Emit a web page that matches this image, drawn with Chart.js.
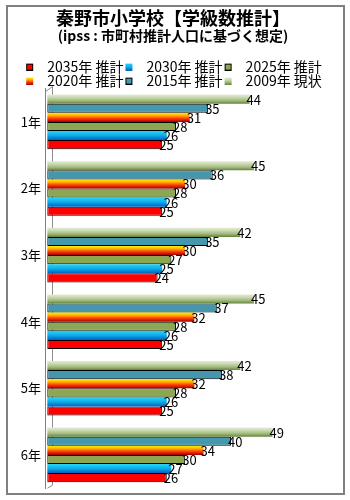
<!DOCTYPE html>
<html lang="ja">
<head>
<meta charset="utf-8">
<script src="https://cdn.jsdelivr.net/npm/chart.js@4/dist/chart.umd.min.js"></script>
<style>
  html, body { margin: 0; padding: 0; background: #fff; }
  #wrap { width: 350px; height: 500px; }
</style>
</head>
<body>
<div id="wrap"><canvas id="chart" width="350" height="500"></canvas></div>
<script>
// Grades (categories) and class-count series
const grades = ['1年', '2年', '3年', '4年', '5年', '6年'];
const seriesNames = ['2009年 現状', '2015年 推計', '2020年 推計', '2025年 推計', '2030年 推計', '2035年 推計'];
const classes2009 = [44, 45, 42, 45, 42, 49];
const classes2015 = [35, 36, 35, 37, 38, 40];
const classes2020 = [31, 30, 30, 32, 32, 34];
const classes2025 = [28, 28, 27, 28, 28, 30];
const classes2030 = [26, 26, 25, 26, 26, 27];
const classes2035 = [25, 25, 24, 25, 25, 26];

const FONT = '"Noto Sans CJK JP", "Noto Sans", sans-serif';
const CAT_PCT = 0.82;

// vertical extent of one bar inside its grade group
function barBand(chart, datasetIndex, dataIndex) {
  const ys = chart.scales.y;
  const band = (ys.bottom - ys.top) / grades.length;
  const group = band * CAT_PCT;
  const h = group / chart.data.datasets.length;
  const top = ys.getPixelForValue(dataIndex) - group / 2 + datasetIndex * h;
  return { top, h };
}

function gradientFill(stops, fallback) {
  return (c) => {
    const chart = c.chart;
    if (!chart.chartArea || !chart.scales.y || c.dataIndex === undefined) return fallback;
    const { top, h } = barBand(chart, c.datasetIndex, c.dataIndex);
    const g = chart.ctx.createLinearGradient(0, top, 0, top + h);
    stops.forEach(([o, col]) => g.addColorStop(o, col));
    return g;
  };
}

const stops2009 = [[0, '#e4ecd6'], [0.35, '#c6d6aa'], [0.7, '#9db578'], [1, '#62823a']];
const stops2020 = [[0, '#fff000'], [0.3, '#ffb000'], [0.62, '#ff3c00'], [1, '#a00000']];
const stops2030 = [[0, '#28d4f4'], [0.45, '#10b0ec'], [1, '#0062c2']];

// small legend swatches
function swatch(fill, border) {
  const cv = document.createElement('canvas');
  cv.width = 16; cv.height = 8;
  const x = cv.getContext('2d');
  if (Array.isArray(fill)) {
    const g = x.createLinearGradient(0, 1, 0, 8);
    fill.forEach(([o, col]) => g.addColorStop(o, col));
    x.fillStyle = g;
  } else {
    x.fillStyle = fill;
  }
  if (border) {
    x.fillRect(2, 1, 7, 7);
    x.strokeStyle = '#000';
    x.lineWidth = 1;
    x.strokeRect(2.5, 1.5, 6, 6);
  } else {
    x.fillRect(2, 1, 7, 7);
  }
  return cv;
}

const swatches = [
  swatch(stops2009, false),
  swatch('#4597ad', true),
  swatch(stops2020, false),
  swatch('#8ca752', true),
  swatch(stops2030, false),
  swatch('#ff0000', true)
];

const valueLabels = {
  id: 'valueLabels',
  afterDatasetsDraw(chart) {
    const ctx = chart.ctx;
    ctx.save();
    ctx.font = '13px ' + FONT;
    ctx.fillStyle = '#000';
    ctx.textAlign = 'left';
    ctx.textBaseline = 'middle';
    chart.data.datasets.forEach((ds, i) => {
      chart.getDatasetMeta(i).data.forEach((bar, j) => {
        ctx.fillText(String(ds.data[j]), bar.x - 3, bar.y + 0.5);
      });
    });
    ctx.restore();
  }
};

// back wall edge of the 3-D plot and the outer frame
const frame = {
  id: 'frame',
  beforeDraw(chart) {
    const ctx = chart.ctx;
    ctx.save();
    ctx.fillStyle = '#fff';
    ctx.fillRect(0, 0, chart.width, chart.height);
    ctx.restore();
  },
  beforeDatasetsDraw(chart) {
    const { ctx, chartArea } = chart;
    const fx = chartArea.left + 0.5, bx = chartArea.left + 7.5;
    ctx.save();
    ctx.strokeStyle = '#8c8c8c';
    ctx.lineWidth = 1;
    ctx.beginPath();
    ctx.moveTo(fx, chartArea.top + 3);
    ctx.lineTo(bx, chartArea.top - 2);
    ctx.lineTo(bx, chartArea.bottom - 3);
    ctx.lineTo(fx + 2, chartArea.bottom);
    ctx.stroke();
    ctx.restore();
  },
  afterDraw(chart) {
    const ctx = chart.ctx;
    ctx.save();
    ctx.strokeStyle = '#808080';
    ctx.lineWidth = 2;
    ctx.strokeRect(7, 6, 337, 488);
    ctx.restore();
  }
};

new Chart(document.getElementById('chart'), {
  type: 'bar',
  data: {
    labels: grades,
    datasets: [
      { label: seriesNames[0], data: classes2009, backgroundColor: gradientFill(stops2009, '#b3c892'), borderWidth: 0 },
      { label: seriesNames[1], data: classes2015, backgroundColor: '#4597ad', borderColor: '#000', borderWidth: 1 },
      { label: seriesNames[2], data: classes2020, backgroundColor: gradientFill(stops2020, '#ff8000'), borderWidth: 0 },
      { label: seriesNames[3], data: classes2025, backgroundColor: '#8ca752', borderColor: '#000', borderWidth: 1 },
      { label: seriesNames[4], data: classes2030, backgroundColor: gradientFill(stops2030, '#10b0ec'), borderWidth: 0 },
      { label: seriesNames[5], data: classes2035, backgroundColor: '#ff0000', borderColor: '#000', borderWidth: 1 }
    ]
  },
  options: {
    indexAxis: 'y',
    responsive: false,
    animation: false,
    layout: { padding: { top: 7, right: 4, bottom: 5, left: 0 } },
    datasets: { bar: { categoryPercentage: CAT_PCT, barPercentage: 1, borderSkipped: false } },
    scales: {
      x: { type: 'linear', display: false, min: -0.5, max: 65 },
      y: {
        type: 'category',
        grid: { display: false, drawTicks: false },
        border: { display: true, color: '#808080', width: 1 },
        ticks: { color: '#000', font: { family: FONT, size: 13 }, padding: 4 },
        afterFit(scale) { scale.width = 45; }
      }
    },
    plugins: {
      title: {
        display: true,
        text: '秦野市小学校【学級数推計】',
        color: '#000',
        font: { family: FONT, size: 18, weight: 'bold', lineHeight: 1.2 },
        padding: { top: 0, bottom: 0 }
      },
      subtitle: {
        display: true,
        text: '(ipss : 市町村推計人口に基づく想定)',
        color: '#000',
        font: { family: FONT, size: 14, weight: 'bold', lineHeight: 1 },
        padding: { top: 0, bottom: 17 }
      },
      legend: {
        display: true,
        position: 'top',
        reverse: true,
        maxHeight: 29,
        labels: {
          usePointStyle: true,
          pointStyleWidth: 16,
          padding: 0,
          color: '#000',
          font: { family: FONT, size: 14 },
          generateLabels(chart) {
            const items = Chart.defaults.plugins.legend.labels.generateLabels(chart);
            items.forEach(it => { it.pointStyle = swatches[it.datasetIndex]; });
            return items;
          }
        }
      },
      tooltip: { enabled: false }
    }
  },
  plugins: [frame, valueLabels]
});
</script>
</body>
</html>
